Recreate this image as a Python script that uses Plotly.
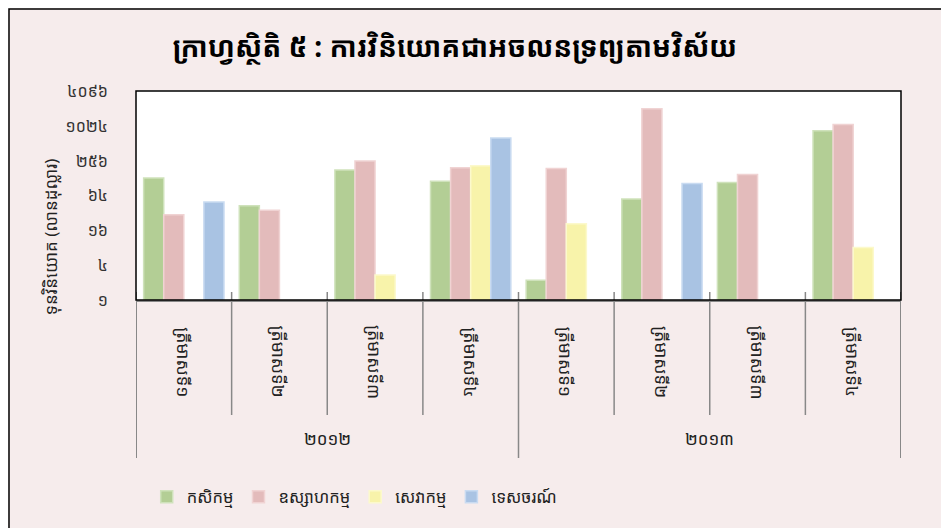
import plotly.graph_objects as go

# data (log4 scale, values approximate)
years = ["២០១២", "២០១៣"]
quarters = ["ត្រីមាសទី១", "ត្រីមាសទី២", "ត្រីមាសទី៣", "ត្រីមាសទី៤"]

agriculture = [130, 43, 178, 114, 2.2, 56, 108, 855]
industry = [30, 36, 256, 195, 189, 2050, 149, 1100]
services = [None, None, 2.7, 211, 21, None, None, 8.1]
tourism = [50, None, None, 640, None, 104, None, None]

series_names = ["កសិកម្ម", "ឧស្សាហកម្ម", "សេវាកម្ម", "ទេសចរណ៍"]
colors = ["#b3ce95", "#e3bbbb", "#f8f3aa", "#a9c3e3"]
edges = ["#cfe2bb", "#f0d3d3", "#fcf9cc", "#c9dbf1"]

tick_vals = [1, 4, 16, 64, 256, 1024, 4096]
tick_text = ["១", "៤", "១៦", "៦៤", "២៥៦", "១០២៤", "៤០៩៦"]

title = "ក្រាហ្វស្ថិតិ ៥ : ការវិនិយោគជាអចលនទ្រព្យតាមវិស័យ"
y_title = "ទុនវិនិយោគ (លានដុល្លារ)"

FONT = "Noto Sans Khmer, Khmer OS, DejaVu Sans, sans-serif"
W, H = 949, 528
L, R, T, B = 128, 56, 83, 236
PW, PH = W - L - R, H - T - B

# one category per (year, quarter) pair
cats = [f"{y} {q}" for y in years for q in quarters]

fig = go.Figure()
for name, vals, c, e in zip(series_names, [agriculture, industry, services, tourism], colors, edges):
    fig.add_trace(go.Bar(
        x=cats, y=vals, name=name,
        marker=dict(color=c, line=dict(color=e, width=1.5)),
    ))

fig.update_layout(
    width=W, height=H,
    paper_bgcolor="#f6ecec", plot_bgcolor="white",
    barmode="group", bargap=0.16, bargroupgap=0,
    margin=dict(l=L, r=R, t=T, b=B),
    font=dict(family=FONT, size=14, color="#222"),
    title=dict(text="<b>" + title + "</b>", x=447 / W, xanchor="center", y=1 - 39 / H, yanchor="middle",
               font=dict(size=28, color="black")),
    showlegend=True,
    legend=dict(orientation="h", x=0.014, xanchor="left", y=-197 / PH, yanchor="middle",
                font=dict(size=16.5), itemwidth=30, traceorder="normal"),
)

fig.update_yaxes(
    type="log", range=[0, 3.62], tickvals=tick_vals, ticktext=tick_text,
    showgrid=False, zeroline=False, ticklabelstandoff=27,
    tickfont=dict(size=16, color="#333"),
)
fig.update_xaxes(
    type="category", showline=True, linecolor="#888", linewidth=2,
    showticklabels=False, ticks="", range=[-0.5, len(cats) - 0.5],
)

# category dividers: short ones between quarters, long ones between years
for i in range(len(cats) + 1):
    long_div = i % len(quarters) == 0
    fig.add_shape(type="line", xref="x", yref="paper", x0=i - 0.5, x1=i - 0.5,
                  y0=8 / PH, y1=-(158 if long_div else 115) / PH,
                  line=dict(color="#888", width=2 if i in (0, len(cats)) else 1.5))

# quarter labels (rotated) and year labels
for i, cat in enumerate(cats):
    fig.add_annotation(text=quarters[i % len(quarters)], textangle=90, xref="x", yref="paper",
                       x=i, y=-62 / PH, xanchor="center", yanchor="middle",
                       showarrow=False, font=dict(size=17.5, color="#222"))
for j, yr in enumerate(years):
    fig.add_annotation(text=yr, xref="x", yref="paper", x=j * len(quarters) + (len(quarters) - 1) / 2,
                       y=-138 / PH, xanchor="center", yanchor="middle",
                       showarrow=False, font=dict(size=17, color="#222"))

# y axis title
fig.add_annotation(text=y_title, textangle=-90, xref="paper", yref="paper",
                   x=-86 / PW, y=0.30, xanchor="center", yanchor="middle",
                   showarrow=False, font=dict(size=17, color="#222"))

# plot area frame and outer chart frame
fig.add_shape(type="rect", xref="paper", yref="paper", x0=0, x1=1, y0=0, y1=1,
              line=dict(color="black", width=1.5), layer="above")
fig.add_shape(type="rect", xref="paper", yref="paper",
              x0=-(L - 1) / PW, x1=(W - L - 1) / PW, y0=-(B - 1) / PH, y1=(H - B - 1) / PH,
              line=dict(color="black", width=1.5))

fig.write_html("out.html")
